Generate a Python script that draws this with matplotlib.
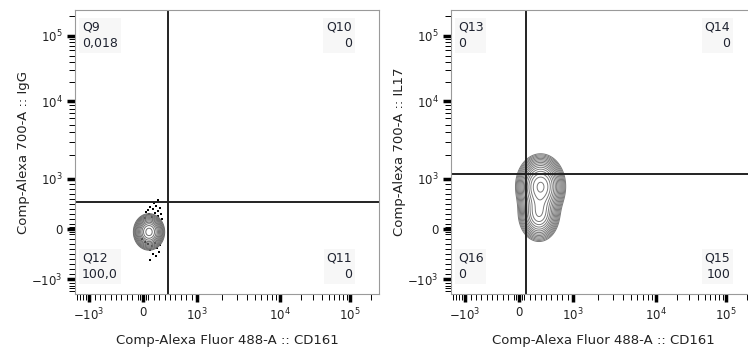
import numpy as np
import matplotlib
matplotlib.use("Agg")
import matplotlib.pyplot as plt
from matplotlib.ticker import FixedLocator, FixedFormatter

# ---- donnees ----
x_label = "Comp-Alexa Fluor 488-A :: CD161"
y_labels = ["Comp-Alexa 700-A :: IgG", "Comp-Alexa 700-A :: IL17"]

major_ticks = [-1000, 0, 1000, 10000, 100000]
major_labels = [r"$-10^3$", "0", r"$10^3$", r"$10^4$", r"$10^5$"]

# gates (x, y) en unites de donnees
gates = [(457, 541), (124, 1167)]

# noms et pourcentages des quadrants : haut-gauche, haut-droite, bas-droite, bas-gauche
quad_names = [["Q9", "Q10", "Q11", "Q12"], ["Q13", "Q14", "Q15", "Q16"]]
quad_values = [["0,018", "0", "0", "100,0"], ["0", "0", "100", "0"]]

# populations : centre x, centre y, poids
pop_left = [(111, -56, 1.0)]
pop_right = [(400, 850, 1.0), (370, 300, 0.55)]

# evenements isoles (panneau gauche)
dots_x = [130, 185, 241, 278, 56, 111, 222, 315, 167, 37, 278, 333, 93, 352, 278, 204,
          93, 167, 222, 259, 130, 37, 296, 185, 241, 315, -19, 130]
dots_y = [436, 397, 456, 357, 337, 298, 317, 416, 238, 218, 258, 298, 377, 198, 575, 515,
          -298, -337, -278, -377, -416, -258, -456, -496, -535, -317, -198, -612]

# ---- echelle biexponentielle (lineaire jusqu'a 10^3 puis log) ----
V_ANCH = [-5, -4, -3, -2, -1, 0, 1, 2, 3, 4, 5]
T_ANCH = [-347, -277, -207, -137, -54, 0, 54, 137, 207, 277, 347]


def _v(x):
    x = np.asarray(x, dtype=float)
    a = np.abs(x)
    v = np.where(a <= 1000, a / 1000, 1 + np.log10(np.maximum(a, 1000) / 1000))
    return np.sign(x) * v


def _vinv(v):
    v = np.asarray(v, dtype=float)
    a = np.abs(v)
    x = np.where(a <= 1, a * 1000, 1000 * 10 ** (np.maximum(a, 1) - 1))
    return np.sign(v) * x


def fwd(x):
    return np.interp(_v(x), V_ANCH, T_ANCH)


def inv(t):
    return _vinv(np.interp(t, T_ANCH, V_ANCH))


minor_ticks = ([i * 100 for i in range(-14, 10) if i not in (-10, 0)]
               + [-50, 50]
               + [k * 1000 for k in range(2, 10)]
               + [k * 10000 for k in range(2, 10)]
               + [200000])

plt.rcParams["font.family"] = ["DejaVu Sans"]
text_color = "#1f2330"

fig = plt.figure(figsize=(7.48, 3.5), dpi=100)
W, H = 748, 350
ax1 = fig.add_axes([75 / W, 56 / H, 304 / W, 284 / H])
ax2 = fig.add_axes([451 / W, 56 / H, 304 / W, 284 / H])

xlim = (-1480, 262144)
ylim = (-1540, 250000)

tx = np.linspace(-70, 238, 500)
ty = np.linspace(-72, 238, 500)
TX, TY = np.meshgrid(tx, ty)
X, Y = inv(TX), inv(TY)


def density(pops, sx, sy):
    d = np.zeros_like(TX)
    for (cx, cy, w), a, b in zip(pops, sx, sy):
        d += w * np.exp(-((TX - fwd(cx)) ** 2 / (2 * a ** 2) + (TY - fwd(cy)) ** 2 / (2 * b ** 2)))
    return d


for i, ax in enumerate([ax1, ax2]):
    ax.set_xscale("function", functions=(fwd, inv))
    ax.set_yscale("function", functions=(fwd, inv))

    if i == 0:
        d = density(pop_left, [5.6], [7.0])
        levels = d.max() * np.geomspace(0.02, 0.85, 13)
        ax.contour(X, Y, d, levels=levels, colors="#6e6e6e", linewidths=0.7)
        ax.scatter(dots_x, dots_y, s=1.2, c="black", marker="s", linewidths=0)
    else:
        d = density(pop_right, [9.0, 8.0], [12.5, 11.5])
        levels = d.max() * np.geomspace(0.02, 0.93, 16)
        ax.contour(X, Y, d, levels=levels, colors="#7a7a7a", linewidths=0.7)

    gx, gy = gates[i]
    ax.axvline(gx, color="#222222", lw=1.4)
    ax.axhline(gy, color="#222222", lw=1.4)

    ax.set_xlim(*xlim)
    ax.set_ylim(*ylim)

    for axis in (ax.xaxis, ax.yaxis):
        axis.set_major_locator(FixedLocator(major_ticks))
        axis.set_major_formatter(FixedFormatter(major_labels))
        axis.set_minor_locator(FixedLocator(minor_ticks))
    ax.tick_params(which="major", direction="out", length=6, width=2.5, color="black",
                   labelsize=8.5, labelcolor="#222222", pad=3)
    ax.tick_params(which="minor", direction="out", length=4, width=0.7, color="black")

    for s in ax.spines.values():
        s.set_color("#9a9a9a")
        s.set_linewidth(0.8)

    ax.set_xlabel(x_label, fontsize=9.5, color="#222222", labelpad=8)
    ax.set_ylabel(y_labels[i], fontsize=9.5, color="#222222", labelpad=1)

    names, vals = quad_names[i], quad_values[i]
    box = dict(facecolor="#f7f7f7", edgecolor="none", pad=2)
    rx = 0.911 if i == 0 else 0.918
    ax.text(0.023, 0.962, f"{names[0]}\n{vals[0]}", transform=ax.transAxes, ha="left", va="top",
            fontsize=9, color=text_color, linespacing=1.3, bbox=box)
    ax.text(rx, 0.962, f"{names[1]}\n{vals[1]}", transform=ax.transAxes, ha="right", va="top",
            fontsize=9, color=text_color, linespacing=1.3, multialignment="right", bbox=box)
    ax.text(rx, 0.148, f"{names[2]}\n{vals[2]}", transform=ax.transAxes, ha="right", va="top",
            fontsize=9, color=text_color, linespacing=1.3, multialignment="right", bbox=box)
    ax.text(0.023, 0.148, f"{names[3]}\n{vals[3]}", transform=ax.transAxes, ha="left", va="top",
            fontsize=9, color=text_color, linespacing=1.3, bbox=box)

fig.savefig("out.png", dpi=100)
